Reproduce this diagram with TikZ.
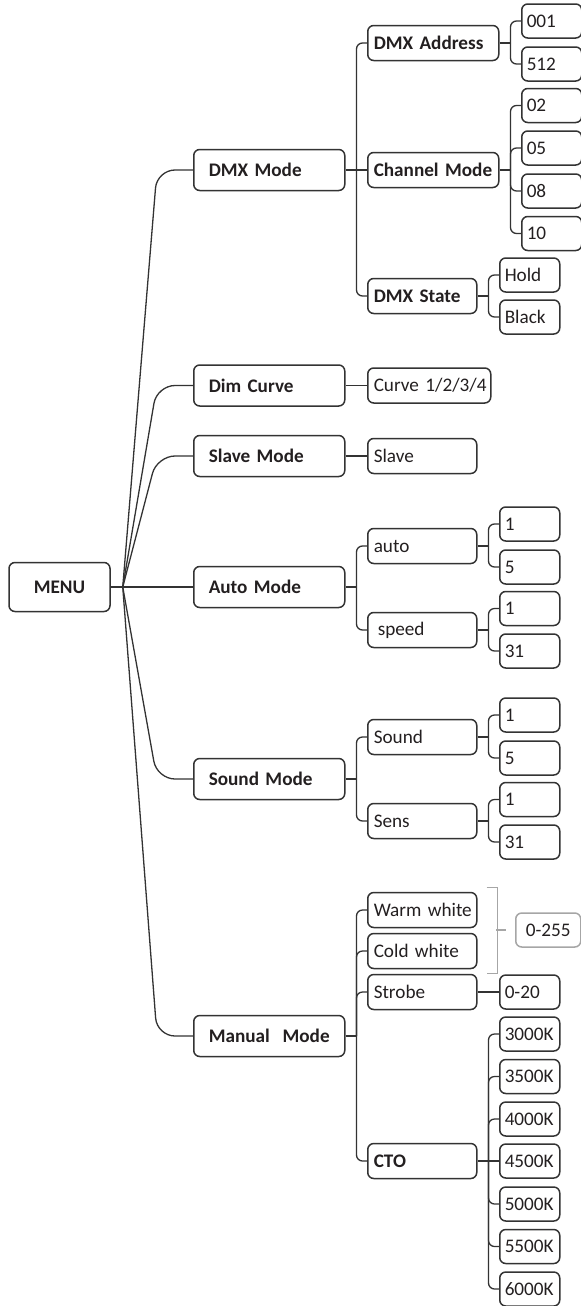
\documentclass[tikz,border=0pt]{standalone}
\usepackage{fontspec}
\setmainfont{Carlito}
\definecolor{linedark}{HTML}{333333}
\definecolor{textdark}{HTML}{231F20}
\definecolor{rangegray}{HTML}{A6A6A6}

\begin{document}
\begin{tikzpicture}[
    x=0.5pt, y=-0.5pt,
    every node/.style={draw=linedark, line width=0.75pt, rounded corners=3pt, anchor=west,
        inner ysep=0pt, text=textdark, align=left, font=\fontsize{9.6}{11}\selectfont},
    menubox/.style={anchor=center, align=center, minimum width=50.5pt, minimum height=24.5pt,
        font=\fontsize{9.6}{11}\selectfont\bfseries},
    modebox/.style={minimum height=20.5pt, inner xsep=0pt, text width=75.5pt,
        execute at begin node={\hspace*{7.5pt}}, font=\fontsize{9.6}{11}\selectfont\bfseries},
    itembox/.style={minimum height=17.5pt, inner xsep=0pt, text width=54.5pt,
        execute at begin node={\hspace*{3pt}}},
    wideitem/.style={itembox, text width=65.5pt},
    boldfont/.style={font=\fontsize{9.6}{11}\selectfont\bfseries},
    valbox/.style={minimum height=17pt, inner xsep=0pt, text width=30pt,
        execute at begin node={\hspace*{2.5pt}}},
    rangebox/.style={draw=rangegray, minimum height=17pt, minimum width=32.5pt, align=center},
    link/.style={draw=linedark, line width=0.65pt},
    fan/.style={rounded corners=9pt},
    branch/.style={rounded corners=3pt},
    rangeline/.style={draw=rangegray, line width=0.6pt}
]
    \useasboundingbox (0,0) rectangle (580,1306);

    % Nodes
    \node[menubox] (menu) at (59.5,587) {MENU};

    \node[modebox] (dmx) at (193,170) {DMX Mode};
    \node[modebox] (dim) at (193,385.5) {Dim Curve};
    \node[modebox] (slavem) at (193,456) {Slave Mode};
    \node[modebox] (automode) at (193,587) {Auto Mode};
    \node[modebox] (soundm) at (193,779) {Sound Mode};
    \node[modebox] (manual) at (193,1036) {Manual\ \ Mode};

    \node[wideitem, boldfont] (addr) at (367,43) {DMX Address};
    \node[wideitem, boldfont] (chan) at (367,170) {Channel Mode};
    \node[itembox, boldfont] (state) at (367,296) {DMX State};
    \node[itembox, text width=61.5pt] (curve) at (367,385.5) {Curve 1/2/3/4};
    \node[itembox] (slave) at (367,456) {Slave};
    \node[itembox] (auto) at (367,546) {auto};
    \node[itembox] (speed) at (367,630) {\hspace{2pt}speed};
    \node[itembox] (sound) at (367,737) {Sound};
    \node[itembox] (sens) at (367,821) {Sens};
    \node[itembox] (warm) at (367,910) {Warm white};
    \node[itembox] (cold) at (367,951) {Cold white};
    \node[itembox] (strobe) at (367,992) {Strobe};
    \node[itembox, boldfont] (cto) at (367,1161) {CTO};

    \node[valbox] (a001) at (521,21) {001};
    \node[valbox] (a512) at (521,64) {512};
    \node[valbox] (c02) at (521,105.5) {02};
    \node[valbox] (c05) at (521,148) {05};
    \node[valbox] (c08) at (521,191) {08};
    \node[valbox] (c10) at (521,233.5) {10};
    \node[valbox] (hold) at (499,275) {Hold};
    \node[valbox] (black) at (499,317) {Black};
    \node[valbox] (au1) at (499,524) {1};
    \node[valbox] (au5) at (499,567) {5};
    \node[valbox] (sp1) at (499,608.5) {1};
    \node[valbox] (sp31) at (499,651) {31};
    \node[valbox] (so1) at (499,715) {1};
    \node[valbox] (so5) at (499,758) {5};
    \node[valbox] (se1) at (499,799.5) {1};
    \node[valbox] (se31) at (499,842) {31};
    \node[valbox] (s020) at (499,992) {0-20};
    \node[valbox] (k3000) at (499,1034) {3000K};
    \node[valbox] (k3500) at (499,1076.5) {3500K};
    \node[valbox] (k4000) at (499,1119) {4000K};
    \node[valbox] (k4500) at (499,1161) {4500K};
    \node[valbox] (k5000) at (499,1204) {5000K};
    \node[valbox] (k5500) at (499,1246.5) {5500K};
    \node[valbox] (k6000) at (499,1289) {6000K};

    \node[rangebox] (range) at (515,930) {0-255};

    % Junctions
    \coordinate (jmenu) at ([xshift=6pt]menu.east);
    \coordinate (knee) at (157,587);
    \coordinate (jdmx) at ([xshift=5.5pt]dmx.east);
    \coordinate (jautomode) at ([xshift=5.5pt]automode.east);
    \coordinate (jsoundm) at ([xshift=5.5pt]soundm.east);
    \coordinate (jmanual) at ([xshift=5.5pt]manual.east);
    \coordinate (jaddr) at ([xshift=5.5pt]addr.east);
    \coordinate (jchan) at ([xshift=5.5pt]chan.east);
    \coordinate (jstate) at ([xshift=5.5pt]state.east);
    \coordinate (jauto) at ([xshift=5.5pt]auto.east);
    \coordinate (jspeed) at ([xshift=5.5pt]speed.east);
    \coordinate (jsound) at ([xshift=5.5pt]sound.east);
    \coordinate (jsens) at ([xshift=5.5pt]sens.east);
    \coordinate (jcto) at ([xshift=5.5pt]cto.east);

    % Connectors
    \draw[link] (menu.east) -- (jmenu);
    \draw[link, fan] (jmenu) -- (knee |- dmx.west) -- (dmx.west);
    \draw[link, fan] (jmenu) -- (knee |- dim.west) -- (dim.west);
    \draw[link, fan] (jmenu) -- (knee |- slavem.west) -- (slavem.west);
    \draw[link] (jmenu) -- (automode.west);
    \draw[link, fan] (jmenu) -- (knee |- soundm.west) -- (soundm.west);
    \draw[link, fan] (jmenu) -- (knee |- manual.west) -- (manual.west);

    \draw[link] (dmx.east) -- (jdmx);
    \draw[link, branch] (jdmx) |- (addr.west);
    \draw[link] (jdmx) -- (chan.west);
    \draw[link, branch] (jdmx) |- (state.west);

    \draw[link] (addr.east) -- (jaddr);
    \draw[link, branch] (jaddr) |- (a001.west);
    \draw[link, branch] (jaddr) |- (a512.west);

    \draw[link] (chan.east) -- (jchan);
    \draw[link, branch] (jchan) |- (c02.west);
    \draw[link, branch] (jchan) |- (c05.west);
    \draw[link, branch] (jchan) |- (c08.west);
    \draw[link, branch] (jchan) |- (c10.west);

    \draw[link] (state.east) -- (jstate);
    \draw[link, branch] (jstate) |- (hold.west);
    \draw[link, branch] (jstate) |- (black.west);

    \draw[link] (dim.east) -- (curve.west);
    \draw[link] (slavem.east) -- (slave.west);

    \draw[link] (automode.east) -- (jautomode);
    \draw[link, branch] (jautomode) |- (auto.west);
    \draw[link, branch] (jautomode) |- (speed.west);
    \draw[link] (auto.east) -- (jauto);
    \draw[link, branch] (jauto) |- (au1.west);
    \draw[link, branch] (jauto) |- (au5.west);
    \draw[link] (speed.east) -- (jspeed);
    \draw[link, branch] (jspeed) |- (sp1.west);
    \draw[link, branch] (jspeed) |- (sp31.west);

    \draw[link] (soundm.east) -- (jsoundm);
    \draw[link, branch] (jsoundm) |- (sound.west);
    \draw[link, branch] (jsoundm) |- (sens.west);
    \draw[link] (sound.east) -- (jsound);
    \draw[link, branch] (jsound) |- (so1.west);
    \draw[link, branch] (jsound) |- (so5.west);
    \draw[link] (sens.east) -- (jsens);
    \draw[link, branch] (jsens) |- (se1.west);
    \draw[link, branch] (jsens) |- (se31.west);

    \draw[link] (manual.east) -- (jmanual);
    \draw[link, branch] (jmanual) |- (warm.west);
    \draw[link, branch] (jmanual) |- (cold.west);
    \draw[link, branch] (jmanual) |- (strobe.west);
    \draw[link, branch] (jmanual) |- (cto.west);
    \draw[link] (strobe.east) -- (s020.west);

    \draw[link] (cto.east) -- (jcto);
    \draw[link, branch] (jcto) |- (k3000.west);
    \draw[link, branch] (jcto) |- (k3500.west);
    \draw[link, branch] (jcto) |- (k4000.west);
    \draw[link] (jcto) -- (k4500.west);
    \draw[link, branch] (jcto) |- (k5000.west);
    \draw[link, branch] (jcto) |- (k5500.west);
    \draw[link, branch] (jcto) |- (k6000.west);

    % Bracket for the white channels
    \coordinate (brtop) at ([xshift=4.5pt,yshift=2pt]warm.north east);
    \coordinate (brbot) at ([xshift=4.5pt,yshift=-2pt]cold.south east);
    \coordinate (brmid) at (496,930);
    \draw[rangeline] (brtop) -- ++(5.5pt,0) |- (brbot);
    \draw[rangeline] (brmid) -- ([xshift=-4.5pt]range.west);
\end{tikzpicture}
\end{document}
